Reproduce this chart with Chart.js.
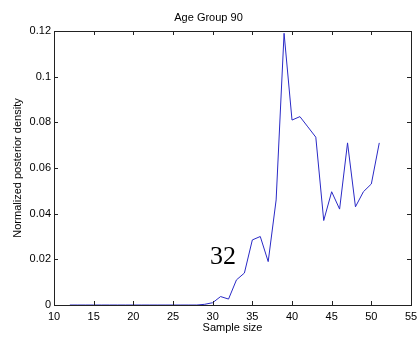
<!DOCTYPE html>
<html lang="en">
<head>
  <meta charset="UTF-8">
  <title>Age Group 90</title>
  <script src="https://cdn.jsdelivr.net/npm/chart.js@4.4.0/dist/chart.umd.min.js"></script>
  <style>
    html, body { margin: 0; padding: 0; background: #fff; }
    #wrap { width: 417px; height: 337px; }
  </style>
</head>
<body>
  <div id="wrap"><canvas id="chart" width="417" height="337"></canvas></div>
  <script>
    // sample sizes and posterior density
    const sampleSize = [12, 13, 14, 15, 16, 17, 18, 19, 20, 21, 22, 23, 24, 25, 26, 27, 28,
      29, 30, 31, 32, 33, 34, 35, 36, 37, 38, 39, 40, 41, 42, 43, 44, 45, 46, 47, 48, 49, 50, 51];
    const density = [0, 0, 0, 0, 0, 0, 0, 0, 0, 0, 0, 0, 0, 0, 0, 0, 0,
      0.0003, 0.001, 0.0037, 0.0026, 0.011, 0.014, 0.0285, 0.030, 0.019, 0.046, 0.119,
      0.081, 0.0825, 0.078, 0.0735, 0.037, 0.0496, 0.042, 0.071, 0.043, 0.0496, 0.053, 0.071];
    const xTicks = [10, 15, 20, 25, 30, 35, 40, 45, 50, 55];
    const yTicks = [0, 0.02, 0.04, 0.06, 0.08, 0.1, 0.12];
    const note = { x: 31.3, y: 0.021, text: '32' };

    const font = { family: 'Liberation Sans', size: 11, weight: 'normal' };

    // MATLAB style inward ticks + annotation
    const matlabBox = {
      id: 'matlabBox',
      afterDraw(chart) {
        const ctx = chart.ctx;
        const a = chart.chartArea;
        const xs = chart.scales.x, ys = chart.scales.y;
        ctx.save();
        ctx.strokeStyle = '#222';
        ctx.lineWidth = 1;
        ctx.beginPath();
        xTicks.forEach(v => {
          const px = Math.round(xs.getPixelForValue(v)) + 0.5;
          ctx.moveTo(px, a.bottom); ctx.lineTo(px, a.bottom - 4);
          ctx.moveTo(px, a.top); ctx.lineTo(px, a.top + 4);
        });
        yTicks.forEach(v => {
          const py = Math.round(ys.getPixelForValue(v)) + 0.5;
          ctx.moveTo(a.left, py); ctx.lineTo(a.left + 4, py);
          ctx.moveTo(a.right, py); ctx.lineTo(a.right - 4, py);
        });
        ctx.stroke();
        ctx.strokeRect(Math.round(a.left) + 0.5, Math.round(a.top) + 0.5,
          Math.round(a.right - a.left), Math.round(a.bottom - a.top));
        ctx.fillStyle = '#000';
        ctx.font = '26px "Liberation Serif"';
        ctx.textAlign = 'center';
        ctx.textBaseline = 'middle';
        ctx.fillText(note.text, xs.getPixelForValue(note.x), ys.getPixelForValue(note.y));
        ctx.restore();
      }
    };

    new Chart(document.getElementById('chart'), {
      type: 'line',
      data: {
        datasets: [{
          data: sampleSize.map((s, i) => ({ x: s, y: density[i] })),
          borderColor: '#2a2ac6',
          borderWidth: 1,
          pointRadius: 0,
          tension: 0,
          fill: false
        }]
      },
      options: {
        responsive: false,
        animation: false,
        layout: { padding: { left: 0, right: 0, top: 0, bottom: 0 } },
        plugins: {
          legend: { display: false },
          tooltip: { enabled: false },
          title: {
            display: true,
            text: 'Age Group 90',
            color: '#000',
            font: font,
            padding: { top: 11, bottom: 0 }
          }
        },
        scales: {
          x: {
            type: 'linear',
            min: 10, max: 55,
            grid: { display: false, drawTicks: false },
            border: { display: false },
            afterBuildTicks: s => { s.ticks = xTicks.map(v => ({ value: v })); },
            afterFit: s => { s.height = 32; s.paddingLeft = 0; s.paddingRight = 0; },
            ticks: { color: '#000', font: font, padding: 5, maxRotation: 0 },
            title: { display: true, text: 'Sample size', color: '#000', font: font, padding: { top: 0, bottom: 2 } }
          },
          x2: {
            type: 'linear', position: 'top', min: 10, max: 55,
            grid: { display: false, drawTicks: false },
            border: { display: false },
            ticks: { display: false },
            afterFit: s => { s.height = 6.8; }
          },
          y: {
            min: 0, max: 0.12,
            grid: { display: false, drawTicks: false },
            border: { display: false },
            afterBuildTicks: s => { s.ticks = yTicks.map(v => ({ value: v })); },
            afterFit: s => { s.width = 54; s.paddingTop = 0; s.paddingBottom = 0; },
            ticks: { color: '#000', font: font, padding: 3, callback: v => String(v) },
            title: { display: true, text: 'Normalized posterior density', color: '#000', font: font, padding: { top: 11, bottom: 0 } }
          },
          y2: {
            position: 'right', min: 0, max: 0.12,
            grid: { display: false, drawTicks: false },
            border: { display: false },
            ticks: { display: false },
            afterFit: s => { s.width = 6; }
          }
        }
      },
      plugins: [matlabBox]
    });
  </script>
</body>
</html>
